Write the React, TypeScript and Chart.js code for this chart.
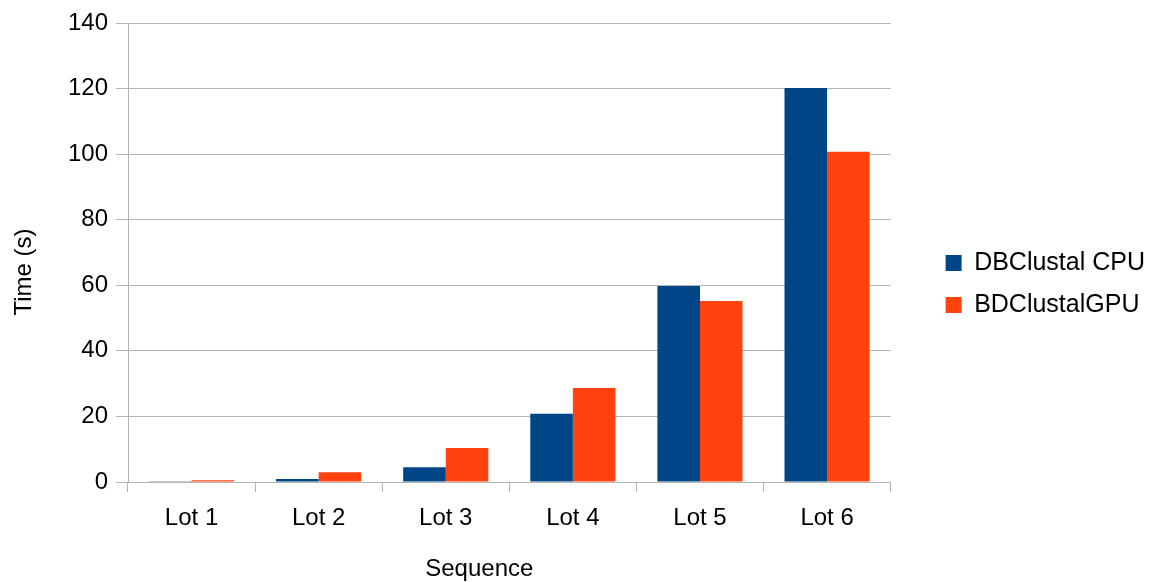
import React, { useEffect, useRef } from "react";
import { Chart, registerables } from "chart.js";

Chart.register(...registerables);

const categories = ["Lot 1", "Lot 2", "Lot 3", "Lot 4", "Lot 5", "Lot 6"];
const cpuValues = [0.2, 0.9, 4.5, 20.8, 59.8, 120.2];
const gpuValues = [0.5, 3.0, 10.4, 28.7, 55.2, 100.7];
const seriesNames = ["DBClustal CPU", "BDClustalGPU"];
const seriesColors = ["#004586", "#ff420e"];
const xTitle = "Sequence";
const yTitle = "Time (s)";

const FONT = "'Liberation Sans', Arial, sans-serif";
const GRID = "#b3b3b3";

const titlesPlugin = {
  id: "axisTitles",
  afterDraw(chart: any) {
    const { ctx, chartArea } = chart;
    ctx.save();
    ctx.fillStyle = "#000";
    ctx.font = `24px ${FONT}`;
    ctx.textAlign = "center";
    ctx.textBaseline = "middle";
    const labelW = ctx.measureText("140").width;
    const leftEdge = chartArea.left - 20 - labelW;
    ctx.fillText(xTitle, (leftEdge + chartArea.right) / 2, 569);
    ctx.translate(24, 272);
    ctx.rotate(-Math.PI / 2);
    ctx.fillText(yTitle, 0, 0);
    ctx.restore();
  },
};

export default function App() {
  const ref = useRef<HTMLCanvasElement>(null);
  useEffect(() => {
    document.body.style.margin = "0";
    const chart = new Chart(ref.current!, {
      type: "bar",
      data: {
        labels: categories,
        datasets: [
          { label: seriesNames[0], data: cpuValues, backgroundColor: seriesColors[0] },
          { label: seriesNames[1], data: gpuValues, backgroundColor: seriesColors[1] },
        ],
      },
      plugins: [titlesPlugin],
      options: {
        animation: false,
        responsive: false,
        maintainAspectRatio: false,
        layout: { padding: { top: 23, bottom: 37, left: 0, right: 0 } },
        datasets: { bar: { categoryPercentage: 0.67, barPercentage: 1.0 } },
        plugins: {
          tooltip: { enabled: false },
          legend: {
            position: "right",
            maxWidth: 300,
            labels: {
              font: { family: FONT, size: 25 },
              color: "#000",
              boxWidth: 16,
              boxHeight: 16,
              padding: 17,
            },
          },
        },
        scales: {
          x: {
            grid: {
              offset: true,
              drawOnChartArea: true,
              color: (c: any) => (c.index === categories.length ? GRID : "transparent"),
              tickColor: GRID,
              tickLength: 10,
              lineWidth: 1,
            },
            border: { color: GRID },
            ticks: { font: { family: FONT, size: 24 }, color: "#000", padding: 12 },
            afterFit(s: any) {
              s.height = 63;
            },
          },
          y: {
            min: 0,
            max: 140,
            grid: { color: GRID, tickColor: GRID, tickLength: 12 },
            border: { color: GRID },
            ticks: { stepSize: 20, font: { family: FONT, size: 24 }, color: "#000", padding: 8 },
            afterFit(s: any) {
              s.width = 128;
            },
          },
          y2: {
            position: "right",
            display: true,
            grid: { display: false },
            border: { display: false },
            ticks: { display: false },
            afterFit(s: any) {
              s.width = 38;
            },
          },
        },
      },
    });
    return () => chart.destroy();
  }, []);
  return (
    <div style={{ width: 1155, height: 582 }}>
      <canvas ref={ref} width={1155} height={582} />
    </div>
  );
}
